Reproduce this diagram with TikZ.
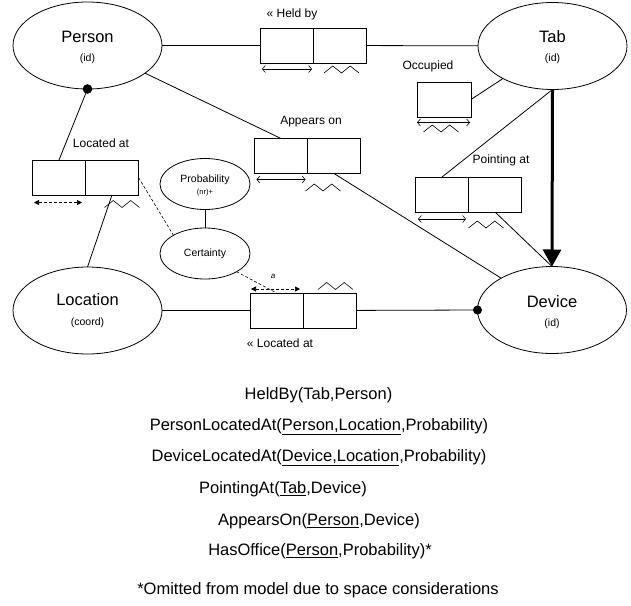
\documentclass[tikz,border=0pt]{standalone}
\usepackage{fontspec}
\setmainfont{Liberation Sans}
\usetikzlibrary{shapes.geometric,arrows.meta,calc}
\begin{document}
\begin{tikzpicture}[x=1pt,y=-1pt,
  every node/.style={inner sep=0pt, outer sep=0pt},
  ent/.style={draw, ellipse, minimum width=149pt, minimum height=87pt, line width=0.8pt},
  attr/.style={draw, ellipse, minimum width=90pt, minimum height=51pt, line width=0.8pt},
  cell/.style={draw, rectangle, minimum width=53pt, minimum height=35pt, line width=0.8pt},
  conn/.style={line width=0.8pt},
  dconn/.style={line width=0.6pt, dash pattern=on 3pt off 2pt},
  bigtxt/.style={font=\fontsize{16.5}{19}\selectfont},
  midtxt/.style={font=\fontsize{12}{14}\selectfont},
  smalltxt/.style={font=\fontsize{10.5}{12}\selectfont},
  tinytxt/.style={font=\fontsize{7.5}{9}\selectfont},
  biarrow/.style={line width=0.6pt, {Straight Barb[length=3pt,width=7pt]}-{Straight Barb[length=3pt,width=7pt]}},
  dbiarrow/.style={line width=0.6pt, dash pattern=on 3pt off 2pt, {Triangle[length=5pt,width=5pt]}-{Triangle[length=5pt,width=5pt]}},
  bigarrow/.style={line width=3pt, -{Triangle[length=17pt,width=18pt]}},
  zig/.pic={\draw[line width=0.6pt] (-17.5,3.5) -- (-8.75,-3.5) -- (0,3.5) -- (8.75,-3.5) -- (17.5,3.5);}
]
\useasboundingbox (0,0) rectangle (631,605);

% entities
\node[ent] (person) at (87.5,45.5) {};
\node[bigtxt] (personT) at (87.5,37) {Person};
\node[smalltxt] (personI) at (87.5,59) {(id)};

\node[ent] (tab) at (552.5,46) {};
\node[bigtxt] (tabT) at (552.5,37) {Tab};
\node[smalltxt] (tabI) at (552.5,59) {(id)};

\node[ent] (location) at (87.5,310.5) {};
\node[bigtxt] (locationT) at (87.5,300) {Location};
\node[smalltxt] (locationI) at (87.5,323) {(coord)};

\node[ent] (device) at (552,310) {};
\node[bigtxt] (deviceT) at (552,302) {Device};
\node[smalltxt] (deviceI) at (552,324) {(id)};

% attribute ellipses
\node[attr] (prob) at (205,184) {};
\node[smalltxt] (probT) at (205,180) {Probability};
\node[tinytxt] (probI) at (205,193) {(nr)+};
\node[attr] (cert) at (205,253.5) {};
\node[smalltxt] (certT) at (205,254) {Certainty};

% relation boxes
\node[cell] (hb1) at (286.5,45.5) {};
\node[cell] (hb2) at (339.5,45.5) {};
\node[cell, minimum width=54pt] (occ) at (444,99.5) {};
\node[cell] (ao1) at (281,156) {};
\node[cell] (ao2) at (334,156) {};
\node[cell] (la1) at (59,177.5) {};
\node[cell] (la2) at (112,177.5) {};
\node[cell] (pa1) at (442,194.5) {};
\node[cell] (pa2) at (495,194.5) {};
\node[cell] (lb1) at (276.5,310.5) {};
\node[cell] (lb2) at (329.5,310.5) {};

% labels
\node[midtxt] (lblHeld) at (292,14) {« Held by};
\node[midtxt] (lblOcc) at (428,66) {Occupied};
\node[midtxt] (lblApp) at (311,122) {Appears on};
\node[midtxt] (lblLoc) at (101,143) {Located at};
\node[midtxt] (lblPoint) at (501,160) {Pointing at};
\node[midtxt] (lblLocB) at (280,343) {« Located at};
\node[font=\fontsize{8}{9}\selectfont\itshape] (lblA) at (273,276) {a};

% connectors
\draw[conn] (person) -- (hb1);
\draw[conn] (hb2) -- (tab);
\draw[conn] (occ.east) -- (tab);
\draw[conn] (person) -- (ao1.north);
\draw[conn] (ao2.south) -- (device);
\draw[conn] (pa1.north) -- (tab.south);
\draw[conn] (pa2.south) -- (device.north);
\draw[bigarrow] (tab.south) -- (device.north);
\draw[conn] (person.south) -- (la1.north);
\fill (person.south) circle (4.8pt);
\draw[conn] (location.north) -- (la2.south);
\draw[dconn] (la2.east) -- (cert.150);
\draw[conn] (prob) -- (cert);
\draw[dconn] (cert.-30) -- (lb1.north);
\draw[conn] (location) -- (lb1);
\draw[conn] (lb2) -- (device.west);
\fill (device.west) circle (4.5pt);

% uniqueness arrows
\draw[biarrow] ($(hb1.south west)+(2,6)$) -- ($(hb1.south east)+(-1,6)$);
\draw[biarrow] ($(occ.south west)+(0,5.5)$) -- ($(occ.south east)+(-1,5.5)$);
\draw[biarrow] ($(ao1.south west)+(2,6)$) -- ($(ao1.south east)+(-2,6)$);
\draw[biarrow] ($(pa1.south west)+(2.5,7)$) -- ($(pa1.south east)+(-2.5,7)$);
\draw[dbiarrow] ($(la1.south west)+(1.5,7.5)$) -- ($(la1.south east)+(-3.5,7.5)$);
\draw[dbiarrow] ($(lb1.north west)+(1,-4)$) -- ($(lb1.north east)+(-3,-4)$);

% zigzags
\pic at ($(hb2.south)+(2,6.5)$) {zig};
\pic at ($(occ.south)+(-3,11.5)$) {zig};
\pic at ($(ao2.south)+(-11,14)$) {zig};
\pic at ($(pa2.south)+(-9,12.5)$) {zig};
\pic at ($(la2.south)+(10,9)$) {zig};
\pic at ($(lb2.north)+(6,-7)$) {zig};

% schema text
\node[bigtxt] (s1) at (318.5,395) {HeldBy(Tab,Person)};
\node[bigtxt] (s2) at (319,427) {PersonLocatedAt(\underline{Person,Location},Probability)};
\node[bigtxt] (s3) at (319,458) {DeviceLocatedAt(\underline{Device,Location},Probability)};
\node[bigtxt] (s4) at (283,489) {PointingAt(\underline{Tab},Device)};
\node[bigtxt] (s5) at (319,521) {AppearsOn(\underline{Person},Device)};
\node[bigtxt] (s6) at (320,551) {HasOffice(\underline{Person},Probability)*};
\node[bigtxt] (s7) at (318,590) {*Omitted from model due to space considerations};
\end{tikzpicture}
\end{document}
